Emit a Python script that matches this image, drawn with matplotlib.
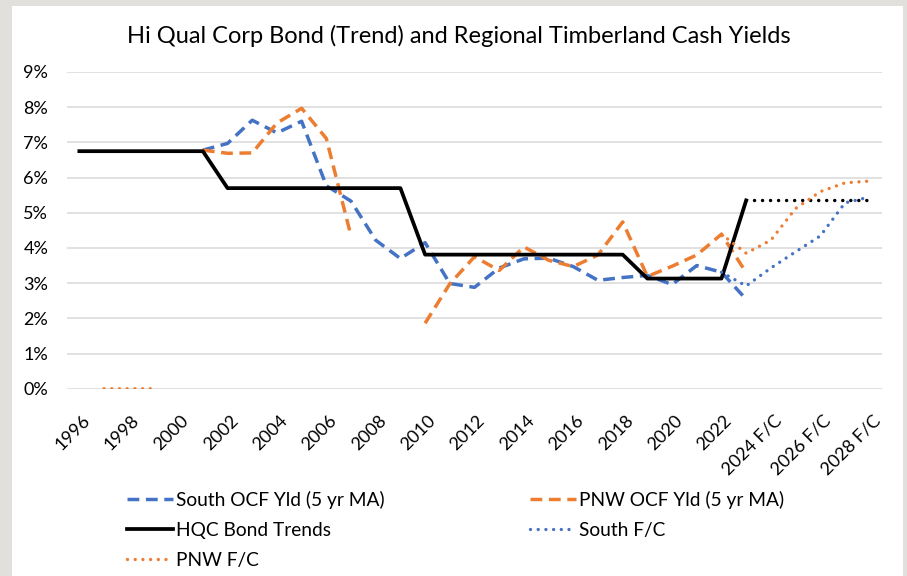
import numpy as np
import matplotlib.pyplot as plt
import matplotlib.transforms as mtransforms
from matplotlib.patches import Rectangle
from matplotlib.ticker import FuncFormatter

plt.rcParams['font.family'] = ['Lato', 'DejaVu Sans']

# --- datos (en %) ---
years = list(range(1996, 2029))
labels = [str(y) if y < 2024 else f"{y} F/C" for y in years]

nan = np.nan
south_ocf = [nan] * 5 + [6.78, 6.97, 7.63, 7.27, 7.60, 5.77, 5.33, 4.22, 3.70, 4.15,
                         2.99, 2.88, 3.43, 3.69, 3.71, 3.47, 3.08, 3.16, 3.22, 2.96,
                         3.50, 3.31, 2.54] + [nan] * 5
pnw_ocf = [nan] * 5 + [6.78, 6.69, 6.70, 7.55, 7.97, 7.11, 4.34, nan, nan, 1.86,
                       2.98, 3.75, 3.36, 4.03, 3.65, 3.47, 3.80, 4.74, 3.19, 3.48,
                       3.80, 4.39, 3.30] + [nan] * 5
hqc = [6.75] * 6 + [5.70] * 8 + [3.81] * 9 + [3.13] * 4 + [5.35] + [nan] * 5
hqc_fc = [nan] * 27 + [5.35] * 6
south_fc = [nan] * 26 + [3.31, 2.92, 3.43, 3.89, 4.34, 5.28, 5.45]
pnw_fc = [nan] + [0.0, 0.0, 0.0] + [nan] * 22 + [4.39, 3.85, 4.22, 5.12, 5.60, 5.85, 5.90]

BLUE = '#4472C4'
ORANGE = '#ED7D31'

# --- figura ---
fig = plt.figure(figsize=(9.07, 5.76), dpi=100, facecolor='#e2e0dd')
fig.patches.append(Rectangle((12 / 907, 0), 891 / 907, 570 / 576,
                             transform=fig.transFigure, facecolor='white',
                             edgecolor='none', zorder=-10))

ax = fig.add_axes([67 / 907, 1 - 388.7 / 576, 815 / 907, 316.7 / 576])
ax.set_facecolor('none')
x = np.arange(len(years))

dotted = dict(dashes=(0.01, 2.3), dash_capstyle='round')
ax.plot(x, south_ocf, color=BLUE, lw=2.5, dashes=(3.4, 1.9),
        label='South OCF Yld (5 yr MA)')
ax.plot(x, pnw_ocf, color=ORANGE, lw=2.5, dashes=(3.4, 1.9),
        label='PNW OCF Yld (5 yr MA)')
ax.plot(x, hqc, color='black', lw=2.7, label='HQC Bond Trends')
ax.plot(x, hqc_fc, color='black', lw=2.5, label='_nolegend_', **dotted)
ax.plot(x, south_fc, color=BLUE, lw=2.4, label='South F/C', **dotted)
ax.plot(x, pnw_fc, color=ORANGE, lw=2.4, label='PNW F/C', **dotted)

# ejes
ax.set_xlim(-0.5, len(years) - 0.5)
ax.set_ylim(0, 9)
ax.set_yticks(range(0, 10))
ax.yaxis.set_major_formatter(FuncFormatter(lambda v, p: f"{int(v)}%"))
ax.grid(axis='y', color='#d9d9d9', lw=1.1)
ax.set_axisbelow(True)
for s in ax.spines.values():
    s.set_visible(False)
ax.tick_params(axis='y', length=0, pad=13.5, labelsize=13)

ax.set_xticks(x[::2])
ax.set_xticklabels(labels[::2], rotation=45, ha='right', va='center',
                   rotation_mode='anchor', fontsize=13)
ax.tick_params(axis='x', length=0, pad=21)
offset = mtransforms.ScaledTranslation(0.08, 0, fig.dpi_scale_trans)
for lab in ax.get_xticklabels():
    lab.set_transform(lab.get_transform() + offset)

# titulo
fig.text(459 / 907, 1 - 43 / 576,
         'Hi Qual Corp Bond (Trend) and Regional Timberland Cash Yields',
         ha='center', va='baseline', fontsize=17)

# leyenda
h, l = ax.get_legend_handles_labels()
order = [0, 2, 4, 1, 3]
fig.legend([h[i] for i in order], [l[i] for i in order],
           loc='upper left', bbox_to_anchor=(127 / 907, 1 - 491 / 576),
           ncol=2, frameon=False, fontsize=13.8, handlelength=2.4,
           handletextpad=0.15, columnspacing=7.6, labelspacing=0.68,
           borderpad=0, borderaxespad=0)

fig.savefig('out.png', dpi=100, facecolor=fig.get_facecolor())
